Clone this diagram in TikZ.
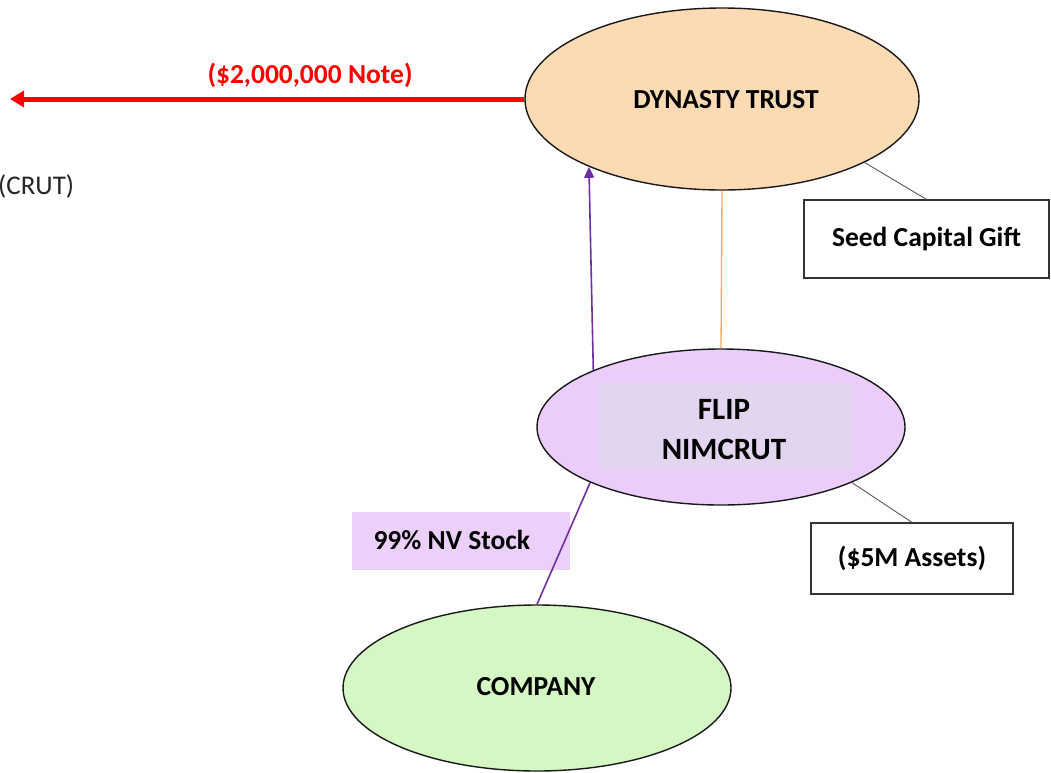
\documentclass[tikz,border=0pt]{standalone}
\usepackage{fontspec}
\setmainfont{Carlito}
\usetikzlibrary{shapes.geometric,arrows.meta}
\definecolor{peach}{HTML}{FCDAB4}
\definecolor{lilac}{HTML}{EBCDFB}
\definecolor{lilacshade}{HTML}{E3D4F0}
\definecolor{mint}{HTML}{D4F7C3}
\definecolor{stocktag}{HTML}{EBD0FA}
\definecolor{stockline}{HTML}{7030A0}
\definecolor{giftline}{HTML}{F6A565}
\definecolor{noteline}{HTML}{FF0000}
\tikzset{
  entity/.style={ellipse, draw=black!90, line width=1.4pt, inner sep=0pt},
  infobox/.style={rectangle, draw=black!80, line width=1.2pt, fill=white, inner sep=0pt,
    font=\bfseries\fontsize{27.5}{33}\selectfont},
  tether/.style={draw=black!65, line width=0.9pt},
  label/.style={font=\bfseries\fontsize{27.5}{33}\selectfont, text=black},
  stockflow/.style={stockline, line width=1.6pt}
}
\begin{document}
\begin{tikzpicture}[x=1pt,y=-1pt]
\useasboundingbox (0,0) rectangle (1051,772);
\fill[white] (0,0) rectangle (1051,772);

% entities
\node[entity, fill=peach, minimum width=394pt, minimum height=182pt] (dyn) at (722,99) {};
\node[label] (dyntext) at (726,100) {DYNASTY TRUST};

\node[entity, fill=lilac, minimum width=368pt, minimum height=156pt] (flip) at (721,427) {};
\node[fill=lilacshade, minimum width=255pt, minimum height=87pt, inner sep=0pt] (flipshade) at (725,426) {};
\node[font=\bfseries\fontsize{31}{40}\selectfont, align=center] (fliptext) at (724,430) {FLIP\\NIMCRUT};

\node[entity, fill=mint, minimum width=388pt, minimum height=166pt] (comp) at (537,688) {};
\node[label] (comptext) at (536,687) {COMPANY};

% side boxes
\node[infobox, minimum width=245pt, minimum height=78pt] (seed) at (926.5,239) {Seed Capital Gift};
\node[infobox, minimum width=202pt, minimum height=71pt] (assets) at (912,558.5) {(\$5M Assets)};

% tethers from the boxes to their entities
\draw[tether] (dyn.-24.6) -- (seed.north);
\draw[tether] (flip.-23.4) -- (assets.north);

% stock flow: company shares into the NIMCRUT, then up to the trust
\draw[stockflow] (comp.north) -- (flip.203);
\draw[stockflow, -{Triangle[length=11pt,width=10pt]}] (flip.156) -- (dyn.207.4);
\node[fill=stocktag, minimum width=218pt, minimum height=58pt, inner sep=0pt] (stocktagbox) at (461,541) {};
\begin{scope}
  \clip (stocktagbox.south west) rectangle (stocktagbox.north east);
  \draw[stockflow] (comp.north) -- (flip.203);
\end{scope}
\node[label, anchor=west] (stocktext) at (370,540) {99\% NV Stock};

% gift line
\draw[giftline, line width=1.3pt] (dyn.south) -- (flip.north);

% note arrow
\coordinate (notetip) at (10,99);
\draw[noteline, line width=5pt, -{Triangle[length=14pt,width=16pt]}] (dyn.west) -- (notetip);
\node[font=\bfseries\fontsize{27.5}{33}\selectfont, text=noteline] (notetext) at (310,75) {(\$2,000,000 Note)};

% text running off the left edge
\node[font=\fontsize{27}{32}\selectfont, text=black!85, anchor=west, inner sep=0pt] (crut) at (-2,186) {(CRUT)};
\end{tikzpicture}
\end{document}
